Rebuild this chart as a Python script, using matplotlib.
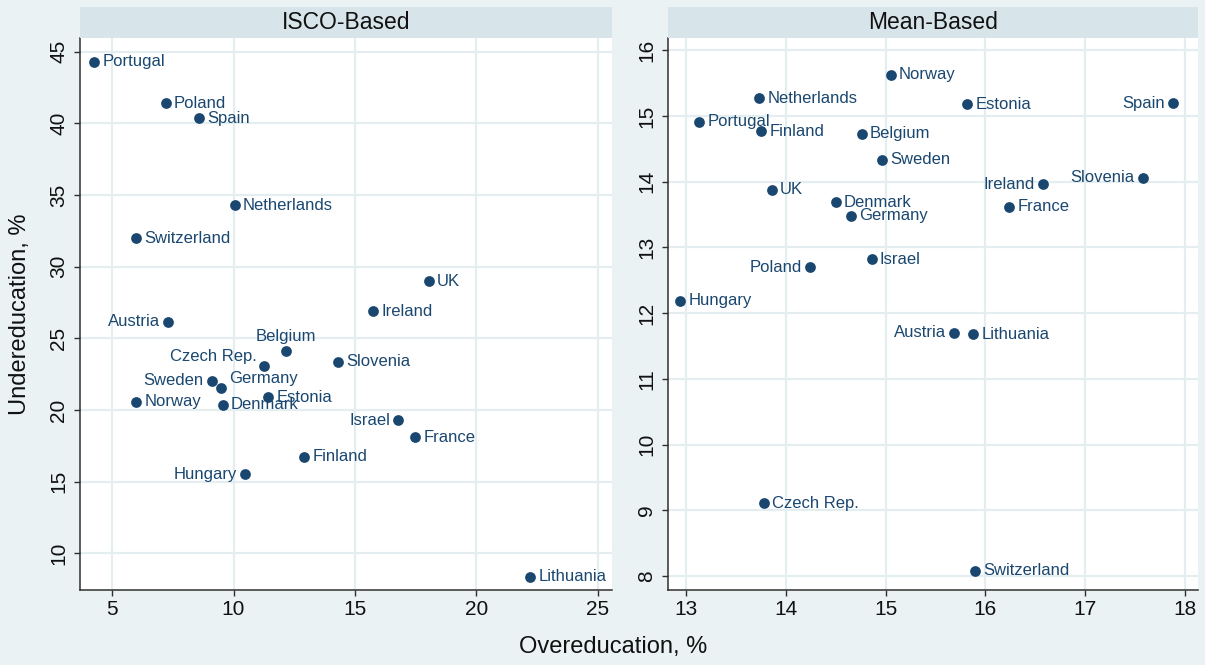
import matplotlib.pyplot as plt

plt.rcParams['font.family'] = ['Liberation Sans', 'DejaVu Sans']

BG = '#eaf2f3'
STRIP = '#d7e5ea'
NAVY = '#1a476f'
GRID = '#e4eef1'
AXIS = '#303030'

# ISCO-based measure: overeducation vs undereducation, %
isco_countries = ['Portugal', 'Poland', 'Spain', 'Netherlands', 'Switzerland', 'UK',
                  'Ireland', 'Austria', 'Belgium', 'Czech Rep.', 'Slovenia', 'Sweden',
                  'Germany', 'Norway', 'Denmark', 'Estonia', 'Israel', 'France',
                  'Finland', 'Hungary', 'Lithuania']
isco_over = [4.26, 7.2, 8.56, 10.05, 6.0, 18.04, 15.74, 7.3, 12.15, 11.25, 14.31, 9.11,
             9.5, 5.99, 9.55, 11.42, 16.78, 17.47, 12.92, 10.49, 22.22]
isco_under = [44.3, 41.4, 40.37, 34.3, 32.0, 29.0, 26.9, 26.15, 24.15, 23.1, 23.36, 22.04,
              21.55, 20.57, 20.38, 20.9, 19.3, 18.11, 16.74, 15.53, 8.39]

# mean-based measure
mean_countries = ['Norway', 'Netherlands', 'Estonia', 'Spain', 'Portugal', 'Finland',
                  'Belgium', 'Sweden', 'Ireland', 'Slovenia', 'UK', 'Denmark', 'France',
                  'Germany', 'Israel', 'Poland', 'Hungary', 'Austria', 'Lithuania',
                  'Czech Rep.', 'Switzerland']
mean_over = [15.05, 13.73, 15.82, 17.88, 13.13, 13.75, 14.76, 14.96, 16.58, 17.58, 13.86,
             14.5, 16.24, 14.65, 14.86, 14.24, 12.94, 15.69, 15.88, 13.78, 15.9]
mean_under = [15.63, 15.27, 15.18, 15.19, 14.91, 14.77, 14.73, 14.33, 13.96, 14.06, 13.88,
              13.69, 13.62, 13.48, 12.82, 12.70, 12.19, 11.70, 11.68, 9.11, 8.08]

# marker-label clock positions (default is 3 o'clock)
isco_labelpos = {'Austria': 9, 'Sweden': 9, 'Israel': 9, 'Hungary': 9,
                 'Czech Rep.': 11, 'Belgium': 12, 'Germany': 1}
mean_labelpos = {'Spain': 9, 'Ireland': 9, 'Slovenia': 9, 'Austria': 9, 'Poland': 9}

CLOCK = {
    3: ((6.0, 0), 'left', 'center'),
    9: ((-6.0, 0), 'right', 'center'),
    12: ((0, 10.5), 'center', 'center'),
    11: ((-5.5, 6.5), 'right', 'center'),
    1: ((5.5, 7.0), 'left', 'center'),
}

W, H = 1205, 665


def px_box(x0, y0, x1, y1):
    return [x0 / W, 1 - y1 / H, (x1 - x0) / W, (y1 - y0) / H]


def panel(box, title, xs, ys, names, labelpos, xlim, ylim, xticks, yticks):
    x0, y0, x1, y1 = box
    ax = fig.add_axes(px_box(x0, y0, x1, y1))
    strip = fig.add_axes(px_box(x0, 7.3, x1, y0))
    strip.set_facecolor(STRIP)
    strip.set_xticks([])
    strip.set_yticks([])
    for s in strip.spines.values():
        s.set_visible(False)
    strip.text(0.5, 0.5, title, ha='center', va='center', fontsize=16.5, color='#111111')

    ax.set_facecolor('white')
    ax.scatter(xs, ys, s=60, color=NAVY, zorder=3, linewidths=0)
    for name, x, y in zip(names, xs, ys):
        off, ha, va = CLOCK[labelpos.get(name, 3)]
        ax.annotate(name, (x, y), xytext=off, textcoords='offset points',
                    ha=ha, va=va, fontsize=12, color=NAVY, zorder=4)

    ax.set_xlim(*xlim)
    ax.set_ylim(*ylim)
    ax.set_xticks(xticks)
    ax.set_yticks(yticks)
    ax.grid(True, color=GRID, lw=1.6)
    ax.set_axisbelow(True)
    for side in ('top', 'right'):
        ax.spines[side].set_visible(False)
    for side in ('left', 'bottom'):
        ax.spines[side].set_color(AXIS)
        ax.spines[side].set_linewidth(1.1)
    ax.tick_params(direction='out', length=4.5, width=1.0, color=AXIS,
                   labelsize=15, labelcolor='#111111')
    ax.tick_params(axis='x', pad=3)
    ax.tick_params(axis='y', pad=4)
    plt.setp(ax.get_yticklabels(), rotation=90, va='center')
    return ax


fig = plt.figure(figsize=(W / 100, H / 100), dpi=100)
fig.patch.set_facecolor(BG)

panel((80, 37.7, 612, 590), 'ISCO-Based', isco_over, isco_under, isco_countries,
      isco_labelpos, (3.68, 25.58), (7.45, 45.98),
      [5, 10, 15, 20, 25], [10, 15, 20, 25, 30, 35, 40, 45])
panel((668, 37.7, 1198, 590), 'Mean-Based', mean_over, mean_under, mean_countries,
      mean_labelpos, (12.82, 18.13), (7.79, 16.19),
      [13, 14, 15, 16, 17, 18], [8, 9, 10, 11, 12, 13, 14, 15, 16])

fig.text(613 / W, 1 - 647 / H, 'Overeducation, %', ha='center', va='center',
         fontsize=17, color='#111111')
fig.text(20 / W, 1 - 314 / H, 'Undereducation, %', ha='center', va='center',
         rotation=90, fontsize=17, color='#111111')

fig.savefig('out.png', dpi=100, facecolor=BG)
